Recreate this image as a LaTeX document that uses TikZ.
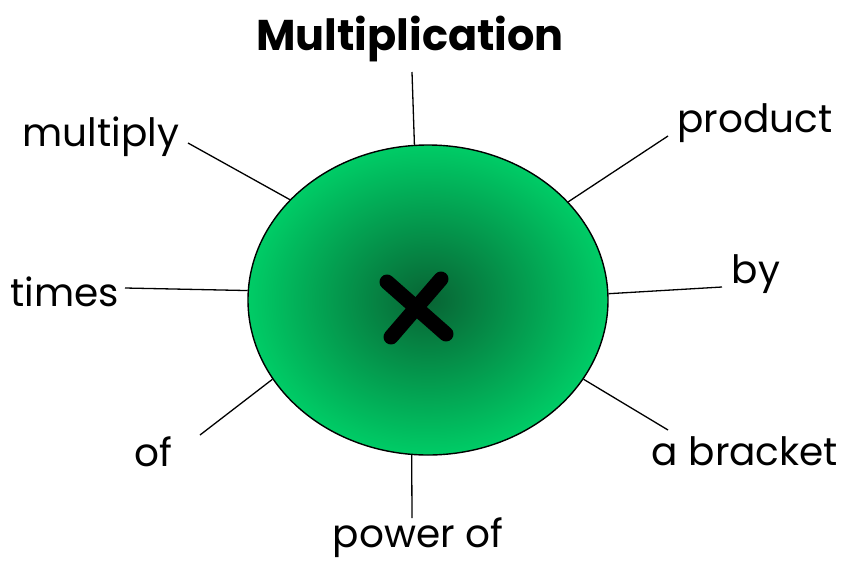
\documentclass[tikz,border=0pt]{standalone}
\usepackage{fontspec}
\setmainfont{Poppins}
\usetikzlibrary{positioning,shapes.geometric}
\definecolor{lightgreen}{RGB}{0,204,102}
\definecolor{darkgreen}{RGB}{8,100,52}
\tikzset{
  word/.style={font=\fontsize{39}{44}\selectfont, anchor=base, inner sep=0pt},
  spoke/.style={line width=1.3pt}
}

\begin{document}
\begin{tikzpicture}[x=1pt, y=-1pt]
\useasboundingbox (0,0) rectangle (847,563);
% centre
\node[ellipse, draw, line width=1.4pt, minimum width=360pt, minimum height=310pt,
      inner color=darkgreen, outer color=lightgreen] (circ) at (428,300) {};
\draw[line width=15pt, line cap=round] (387,282) -- (446,334);
\draw[line width=15pt, line cap=round] (441,279) -- (391,337);
% words
\node[word, font=\bfseries\fontsize{43}{48}\selectfont] (title) at (410,50) {Multiplication};
\node[word] (multiply) at (101,146) {multiply};
\node[word] (product) at (755,132) {product};
\node[word] (times) at (65,306) {times};
\node[word] (by) at (756,283) {by};
\node[word] (of) at (153,466) {of};
\node[word] (bracket) at (745,465) {a bracket};
\node[word] (power) at (418,547) {power of};
% outer ends of the spokes
\coordinate (tTop) at (412,72);
\coordinate (tMultiply) at (188,143);
\coordinate (tProduct) at (668,136);
\coordinate (tTimes) at (125,288);
\coordinate (tBy) at (722,287);
\coordinate (tOf) at (200,435);
\coordinate (tBracket) at (668,430);
\coordinate (tPower) at (412,518);
% spokes
\draw[spoke] (circ.95.9) -- (tTop);
\draw[spoke] (circ.144.7) -- (tMultiply);
\draw[spoke] (circ.35.7) -- (tProduct);
\draw[spoke] (circ.177.5) -- (tTimes);
\draw[spoke] (circ.2.9) -- (tBy);
\draw[spoke] (circ.207.7) -- (tOf);
\draw[spoke] (circ.333.4) -- (tBracket);
\draw[spoke] (circ.264.1) -- (tPower);
\end{tikzpicture}
\end{document}
